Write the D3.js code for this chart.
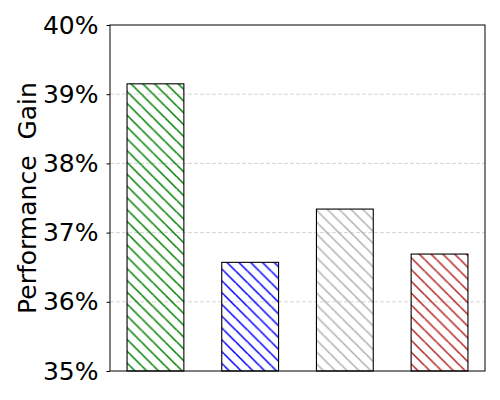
<!DOCTYPE html>
<html lang="en">
<head>
<meta charset="UTF-8">
<title>Performance Gain</title>
<script src="https://cdn.jsdelivr.net/npm/d3@7"></script>
<style>
  body { margin: 0; background: #fff; }
</style>
</head>
<body>
<div id="container"></div>
<script>
// data
let categories = ['A', 'B', 'C', 'D'];
let gains = [39.15, 36.57, 37.34, 36.69];
let hatchColors = ['#008000', '#0000ff', '#b0b0b0', '#b22222'];
let yTicks = [35, 36, 37, 38, 39, 40];

let W = 500, H = 400;
let margin = {left: 110, right: 15, top: 25, bottom: 29};

let svg = d3.select('#container')
    .append('svg')
    .attr('width', W)
    .attr('height', H)
    .style('font-family', 'DejaVu Sans, sans-serif');

// hatch patterns, one per colour
let defs = svg.append('defs');
let step = 11.8;
hatchColors.forEach((c, i) => {
    let p = defs.append('pattern')
        .attr('id', 'hatch' + i)
        .attr('patternUnits', 'userSpaceOnUse')
        .attr('width', step)
        .attr('height', step);
    p.append('path')
        .attr('d', `M0,0L${step},${step}M${-step},0L0,${step}M${step},${-step}L${2*step},0M0,${-step}L${step},0M0,${step}L${step},${2*step}`)
        .attr('stroke', c)
        .attr('stroke-width', 1.5)
        .attr('fill', 'none');
});

// x positions: bars at 0..3, width 0.6, 5% margins
let x = d3.scaleLinear()
    .domain([-0.48, 3.48])
    .range([margin.left, W - margin.right]);
let y = d3.scaleLinear()
    .domain([35, 40])
    .range([H - margin.bottom, margin.top]);

// grid
svg.append('g')
    .selectAll('line')
    .data(yTicks.slice(1, -1))
    .join('line')
    .attr('x1', margin.left)
    .attr('x2', W - margin.right)
    .attr('y1', d => y(d))
    .attr('y2', d => y(d))
    .attr('stroke', '#cccccc')
    .attr('stroke-width', 0.8)
    .attr('stroke-dasharray', '4,2');

// bars
let bw = 0.6;
svg.append('g')
    .selectAll('rect')
    .data(gains)
    .join('rect')
    .attr('x', (d, i) => x(i - bw / 2))
    .attr('width', (d, i) => x(i + bw / 2) - x(i - bw / 2))
    .attr('y', d => y(d))
    .attr('height', d => y(35) - y(d))
    .attr('fill', (d, i) => 'url(#hatch' + i + ')')
    .attr('stroke', 'black')
    .attr('stroke-width', 1.1);

// frame
svg.append('rect')
    .attr('x', margin.left)
    .attr('y', margin.top)
    .attr('width', W - margin.left - margin.right)
    .attr('height', H - margin.top - margin.bottom)
    .attr('fill', 'none')
    .attr('stroke', 'black')
    .attr('stroke-width', 1);

// y axis
let yAxis = svg.append('g')
    .attr('transform', 'translate(' + margin.left + ',0)')
    .call(d3.axisLeft(y).tickValues(yTicks).tickFormat(d => d + '%').tickSize(3.5).tickPadding(8));
yAxis.select('.domain').remove();
yAxis.selectAll('text')
    .style('font-size', '25px')
    .style('font-family', 'DejaVu Sans, sans-serif')
    .attr('fill', 'black');
yAxis.selectAll('line').attr('stroke', 'black');

// y label
svg.append('text')
    .attr('transform', 'translate(36,' + y(37.5) + ') rotate(-90)')
    .attr('text-anchor', 'middle')
    .style('font-size', '25px')
    .style('white-space', 'pre')
    .text('Performance  Gain');
</script>
</body>
</html>
